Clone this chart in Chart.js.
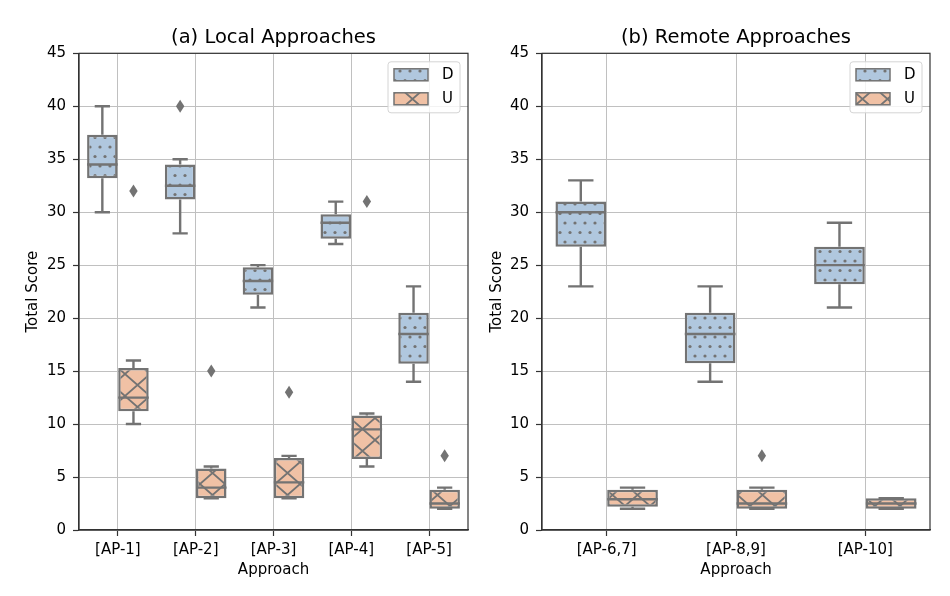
<!DOCTYPE html>
<html>
<head>
<meta charset="utf-8">
<script src="https://cdn.jsdelivr.net/npm/chart.js@4.4.1/dist/chart.umd.min.js"></script>
<style>
  html, body { margin: 0; padding: 0; background: #fff; }
  #wrap { position: relative; width: 950px; height: 596px; }
  .panel { position: absolute; top: 0; width: 475px; height: 596px; }
</style>
</head>
<body>
<div id="wrap">
  <div class="panel" style="left:0"><canvas id="local"></canvas></div>
  <div class="panel" style="left:475px"><canvas id="remote"></canvas></div>
</div>
<script>
// box stats per category: [whisker low, q1, median, q3, whisker high]
const localLabels = ['[AP-1]', '[AP-2]', '[AP-3]', '[AP-4]', '[AP-5]'];
const localD = [[30, 33.2, 34.5, 37.3, 40], [28, 31.2, 32.5, 34.5, 35], [21, 22.2, 23.5, 24.8, 25], [27, 27.5, 29, 29.8, 31], [14, 15.7, 18.5, 20.5, 23]];
const localDOut = [[], [40], [], [], []];
const localU = [[10, 11.2, 12.5, 15.3, 16], [3, 3, 4, 5.8, 6], [3, 3, 4.5, 6.8, 7], [6, 6.7, 9.5, 10.8, 11], [2, 2, 2.5, 3.8, 4]];
const localUOut = [[32], [15], [13], [31], [7]];

const remoteLabels = ['[AP-6,7]', '[AP-8,9]', '[AP-10]'];
const remoteD = [[23, 26.75, 30, 31, 33], [14, 15.75, 18.5, 20.5, 23], [21, 23.2, 25, 26.75, 29]];
const remoteDOut = [[], [], []];
const remoteU = [[2, 2.2, 2.9, 3.8, 4], [2, 2, 2.5, 3.8, 4], [2, 2, 2.5, 3, 3]];
const remoteUOut = [[], [7], []];

const yTicks = [0, 5, 10, 15, 20, 25, 30, 35, 40, 45];

const D_FILL = '#b0c7de';
const U_FILL = '#f0c1a5';
const EDGE = '#737373';
const GRID = '#c0c0c0';
const SPINE = '#333333';

Chart.defaults.font.family = '"DejaVu Sans", sans-serif';
Chart.defaults.color = '#000';

function dotPattern() {
    const c = document.createElement('canvas');
    c.width = 10; c.height = 19;
    const g = c.getContext('2d');
    g.fillStyle = D_FILL;
    g.fillRect(0, 0, 10, 19);
    g.fillStyle = EDGE;
    [[5, 4.5], [0, 14], [10, 14]].forEach(([x, y]) => {
        g.beginPath();
        g.arc(x, y, 1.6, 0, Math.PI * 2);
        g.fill();
    });
    return g.createPattern(c, 'repeat');
}

function crossPattern() {
    const w = 25, h = 22;
    const c = document.createElement('canvas');
    c.width = w; c.height = h;
    const g = c.getContext('2d');
    g.fillStyle = U_FILL;
    g.fillRect(0, 0, w, h);
    g.strokeStyle = EDGE;
    g.lineWidth = 1.8;
    for (const dx of [-w, 0, w]) {
        g.beginPath();
        g.moveTo(dx, 0); g.lineTo(dx + w, h);
        g.moveTo(dx + w, 0); g.lineTo(dx, h);
        g.stroke();
    }
    return g.createPattern(c, 'repeat');
}

const dotFill = dotPattern();
const crossFill = crossPattern();

// medians, whiskers, caps and fliers on top of the floating bars
const boxParts = {
    id: 'boxParts',
    afterDatasetsDraw(chart) {
        const ctx = chart.ctx;
        const y = chart.scales.y;
        chart.data.datasets.forEach((ds, i) => {
            chart.getDatasetMeta(i).data.forEach((bar, j) => {
                const [lo, q1, med, q3, hi] = ds.stats[j].map(v => y.getPixelForValue(v));
                const half = bar.width / 2;
                const cap = bar.width / 4;
                ctx.save();
                ctx.strokeStyle = EDGE;
                ctx.lineWidth = 2.4;
                ctx.beginPath();
                ctx.moveTo(bar.x - half, med); ctx.lineTo(bar.x + half, med);
                ctx.moveTo(bar.x, q3); ctx.lineTo(bar.x, hi);
                ctx.moveTo(bar.x, q1); ctx.lineTo(bar.x, lo);
                ctx.moveTo(bar.x - cap, hi); ctx.lineTo(bar.x + cap, hi);
                ctx.moveTo(bar.x - cap, lo); ctx.lineTo(bar.x + cap, lo);
                ctx.stroke();
                ctx.fillStyle = EDGE;
                ds.outliers[j].forEach(v => {
                    const py = y.getPixelForValue(v);
                    ctx.beginPath();
                    ctx.moveTo(bar.x, py - 6.5);
                    ctx.lineTo(bar.x + 4.2, py);
                    ctx.lineTo(bar.x, py + 6.5);
                    ctx.lineTo(bar.x - 4.2, py);
                    ctx.closePath();
                    ctx.fill();
                });
                ctx.restore();
            });
        });
    }
};

// top/right spines and the legend box inside the axes
const frameAndLegend = {
    id: 'frameAndLegend',
    afterDraw(chart) {
        const ctx = chart.ctx;
        const a = chart.chartArea;
        ctx.save();
        ctx.strokeStyle = SPINE;
        ctx.lineWidth = 1.2;
        ctx.strokeRect(a.left, a.top, a.right - a.left, a.bottom - a.top);

        const w = 72, h = 51;
        const x = a.right - 8 - w, top = a.top + 8.5;
        ctx.beginPath();
        ctx.roundRect(x, top, w, h, 3);
        ctx.fillStyle = 'rgba(255,255,255,0.8)';
        ctx.fill();
        ctx.strokeStyle = '#d4d4d4';
        ctx.lineWidth = 1;
        ctx.stroke();
        chart.data.datasets.forEach((ds, i) => {
            const py = top + 7 + i * 24;
            ctx.fillStyle = ds.backgroundColor;
            ctx.fillRect(x + 6, py, 34, 12);
            ctx.strokeStyle = EDGE;
            ctx.lineWidth = 1.5;
            ctx.strokeRect(x + 6, py, 34, 12);
            ctx.fillStyle = '#000';
            ctx.font = '15px "DejaVu Sans"';
            ctx.textBaseline = 'middle';
            ctx.textAlign = 'left';
            ctx.fillText(ds.label, x + 54, py + 6.5);
        });
        ctx.restore();
    }
};

function makeChart(id, title, labels, dStats, dOut, uStats, uOut, yWidth, yTitlePad, rightPad) {
    return new Chart(document.getElementById(id), {
        type: 'bar',
        data: {
            labels: labels,
            datasets: [
                {
                    label: 'D',
                    data: dStats.map(s => [s[1], s[3]]),
                    stats: dStats,
                    outliers: dOut,
                    backgroundColor: dotFill,
                    borderColor: EDGE,
                    borderWidth: 2.5,
                    borderSkipped: false,
                    categoryPercentage: 0.8,
                    barPercentage: 0.98,
                },
                {
                    label: 'U',
                    data: uStats.map(s => [s[1], s[3]]),
                    stats: uStats,
                    outliers: uOut,
                    backgroundColor: crossFill,
                    borderColor: EDGE,
                    borderWidth: 2.5,
                    borderSkipped: false,
                    categoryPercentage: 0.8,
                    barPercentage: 0.98,
                }
            ]
        },
        options: {
            responsive: true,
            maintainAspectRatio: false,
            animation: false,
            layout: { padding: { left: 0, right: rightPad, top: 0, bottom: 0 } },
            scales: {
                x: {
                    ticks: { padding: 5, font: { size: 15 } },
                    grid: { offset: false, color: GRID, lineWidth: 1, tickLength: 6, tickColor: SPINE, tickWidth: 1.2 },
                    border: { color: SPINE, width: 1.2 },
                    title: { display: true, text: 'Approach', font: { size: 15 }, padding: { top: 0, bottom: 17 } },
                    afterFit(s) { s.height = 66; }
                },
                y: {
                    min: yTicks[0],
                    max: yTicks[yTicks.length - 1],
                    afterBuildTicks(s) { s.ticks = yTicks.map(v => ({ value: v })); },
                    ticks: { padding: 7, font: { size: 15 } },
                    grid: { color: GRID, lineWidth: 1, tickLength: 6, tickColor: SPINE, tickWidth: 1.2 },
                    border: { color: SPINE, width: 1.2 },
                    title: { display: true, text: 'Total Score', font: { size: 15 }, padding: { top: yTitlePad, bottom: 0 } },
                    afterFit(s) { s.width = yWidth; }
                }
            },
            plugins: {
                legend: { display: false },
                tooltip: { enabled: false },
                title: {
                    display: true,
                    text: title,
                    fullSize: false,
                    font: { size: 19.5, weight: 'normal' },
                    padding: { top: 26.6, bottom: 3.3 }
                }
            }
        },
        plugins: [boxParts, frameAndLegend]
    });
}

makeChart('local', '(a) Local Approaches', localLabels, localD, localDOut, localU, localUOut, 79, 24, 7);
makeChart('remote', '(b) Remote Approaches', remoteLabels, remoteD, remoteDOut, remoteU, remoteUOut, 67, 13, 20);
</script>
</body>
</html>
